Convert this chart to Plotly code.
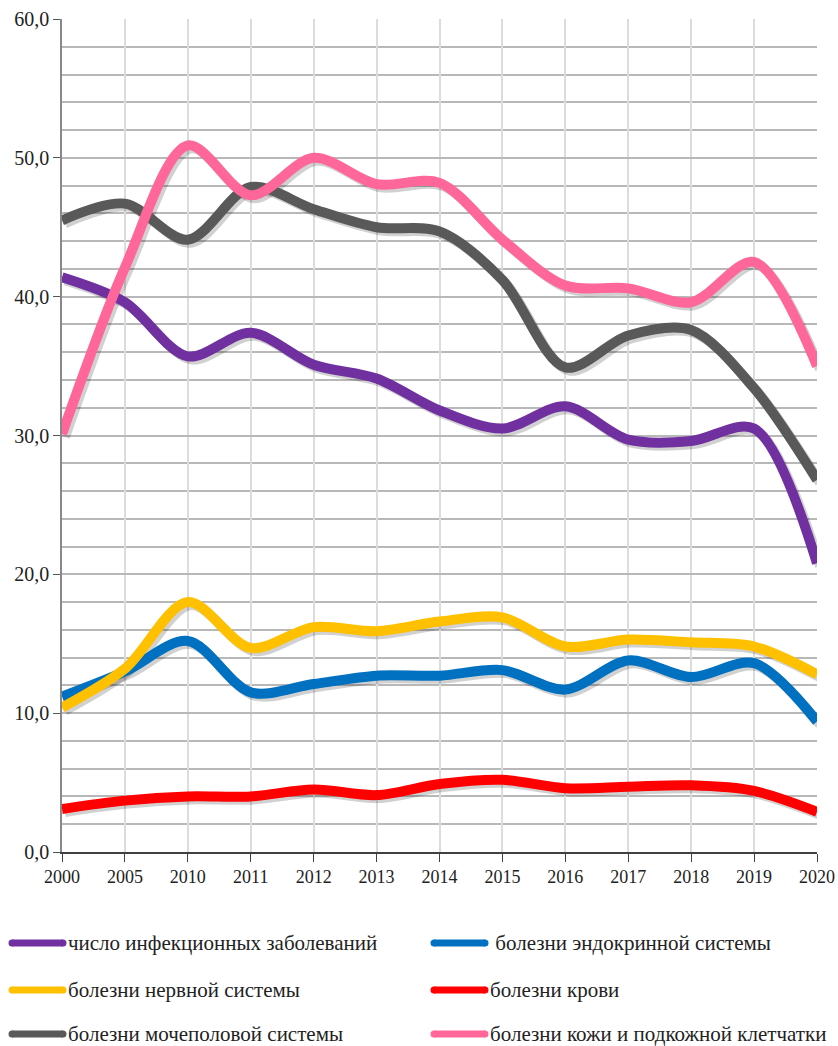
import plotly.graph_objects as go

years = ["2000", "2005", "2010", "2011", "2012", "2013", "2014",
         "2015", "2016", "2017", "2018", "2019", "2020"]

infections = [41.4, 39.6, 35.7, 37.4, 35.1, 34.1, 31.8, 30.5, 32.1, 29.7, 29.6, 30.5, 20.8]
endocrine = [11.2, 13.0, 15.2, 11.5, 12.1, 12.7, 12.7, 13.1, 11.7, 13.8, 12.6, 13.6, 9.4]
nervous = [10.4, 13.2, 18.0, 14.7, 16.2, 15.9, 16.6, 16.9, 14.8, 15.3, 15.1, 14.8, 12.8]
blood = [3.1, 3.7, 4.0, 4.0, 4.5, 4.1, 4.9, 5.2, 4.6, 4.7, 4.8, 4.4, 2.9]
urinary = [45.5, 46.7, 44.1, 47.9, 46.3, 45.0, 44.7, 41.2, 34.9, 37.2, 37.6, 33.4, 26.8]
skin = [30.1, 42.1, 50.9, 47.3, 50.0, 48.1, 48.2, 44.1, 40.8, 40.6, 39.6, 42.5, 35.0]

series = [
    ("число инфекционных заболеваний", infections, "#7030A0"),
    (" болезни эндокринной системы", endocrine, "#0070C0"),
    ("болезни нервной системы", nervous, "#FFC000"),
    ("болезни крови", blood, "#FF0000"),
    ("болезни мочеполовой системы", urinary, "#595959"),
    ("болезни кожи и подкожной клетчатки", skin, "#FF6699"),
]

y_ticks = [0, 10, 20, 30, 40, 50, 60]
y_ticktext = [f"{v:.1f}".replace(".", ",") for v in y_ticks]

W, H = 838, 1046
L, T = 62, 19
R = W - 817
B = H - 852
pw, ph = W - L - R, H - T - B

idx = list(range(len(years)))
fig = go.Figure()

# shadows on base axes (ranges shifted so they fall 3px right / 3px down)
for name, vals, col in series:
    fig.add_trace(go.Scatter(x=idx, y=vals, mode="lines", showlegend=False,
                             hoverinfo="skip",
                             line=dict(color="rgba(0,0,0,0.18)", width=10,
                                       shape="spline", smoothing=0.9),
                             xaxis="x", yaxis="y"))

for name, vals, col in series:
    fig.add_trace(go.Scatter(x=idx, y=vals, mode="lines", name=name,
                             showlegend=False,
                             line=dict(color=col, width=10,
                                       shape="spline", smoothing=0.9),
                             xaxis="x2", yaxis="y2"))

dx = 3 / pw * 12
dy = 3 / ph * 60
FF = "Liberation Serif"

fig.update_layout(
    width=W, height=H,
    margin=dict(l=L, r=R, t=T, b=B, autoexpand=False),
    paper_bgcolor="white", plot_bgcolor="white",
    font=dict(family=FF, color="#222222"),
    showlegend=False,
    xaxis=dict(range=[0 - dx, 12 - dx], visible=False, fixedrange=True,
               automargin=False),
    yaxis=dict(range=[0 + dy, 60 + dy], visible=False, fixedrange=True,
               automargin=False),
    xaxis2=dict(range=[0, 12], overlaying="x", side="bottom", automargin=False,
                tickmode="array", tickvals=idx, ticktext=years,
                showgrid=True, gridcolor="#dcdcdc", gridwidth=1.5,
                showline=True, linecolor="#404040", linewidth=1.5,
                ticks="outside", ticklen=8, tickcolor="#404040",
                tickfont=dict(size=18, family=FF, color="#222"),
                zeroline=False, fixedrange=True),
    yaxis2=dict(range=[0, 60], overlaying="y", side="left", automargin=False,
                tickmode="array", tickvals=y_ticks, ticktext=y_ticktext,
                showgrid=True, gridcolor="#b8b8b8", gridwidth=1.5,
                minor=dict(dtick=2, showgrid=True, gridcolor="#b8b8b8", gridwidth=1.5),
                showline=True, linecolor="#888888", linewidth=1.5,
                ticks="outside", ticklen=7, tickcolor="#555555",
                tickfont=dict(size=20, family=FF, color="#222"),
                zeroline=False, fixedrange=True),
)

# manual legend (two columns, three rows), positions in page pixels
rows_py = [943, 990, 1034]
cols_px = [(12, 63, 68), (434, 485, 490)]
lw = 7


def px2x(p):
    return (p - L) / pw


def py2y(p):
    return (T + ph - p) / ph


for i, (name, vals, col) in enumerate(series):
    r, c = i // 2, i % 2
    x0, x1, xt = cols_px[c]
    yc = rows_py[r]
    fig.add_shape(type="line", xref="paper", yref="paper",
                  x0=px2x(x0), x1=px2x(x1), y0=py2y(yc), y1=py2y(yc),
                  line=dict(color=col, width=lw))
    for xe in (x0, x1):
        fig.add_shape(type="circle", xref="paper", yref="paper",
                      x0=px2x(xe - lw / 2), x1=px2x(xe + lw / 2),
                      y0=py2y(yc + lw / 2), y1=py2y(yc - lw / 2),
                      line=dict(width=0), fillcolor=col)
    fig.add_annotation(xref="paper", yref="paper", x=px2x(xt), y=py2y(yc),
                       text=name, showarrow=False, xanchor="left", yanchor="middle",
                       xshift=-2,
                       font=dict(size=21, family=FF, color="#222"))

fig.write_html("out.html", config={"displayModeBar": False},
               post_script="document.body.style.margin='0';document.body.style.overflow='hidden';")
